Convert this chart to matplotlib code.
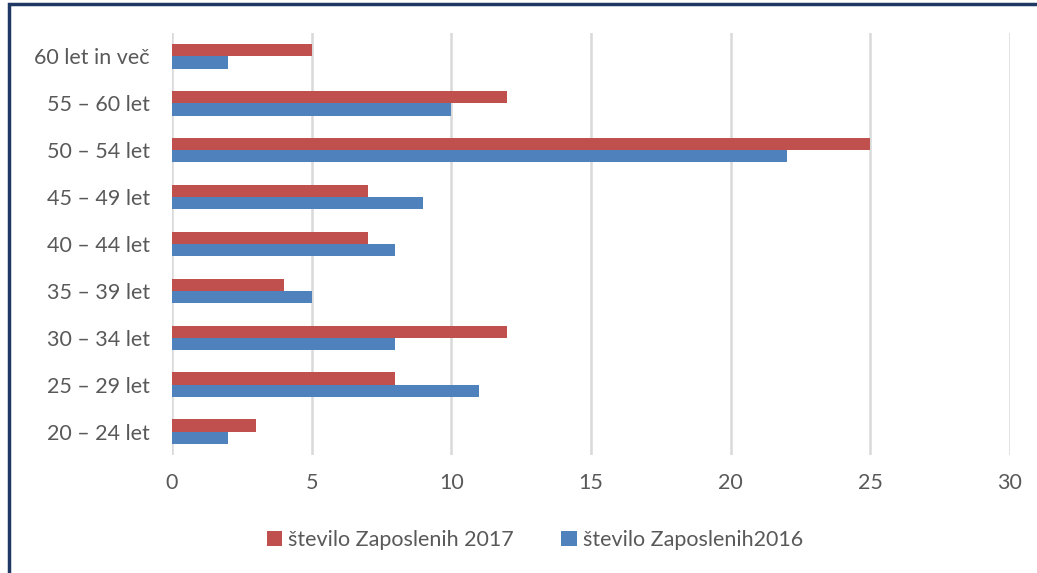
import numpy as np
import matplotlib.pyplot as plt
from matplotlib.patches import Rectangle

plt.rcParams['font.family'] = ['Lato', 'DejaVu Sans']

categories = ['20 – 24 let', '25 – 29 let', '30 – 34 let', '35 – 39 let', '40 – 44 let',
              '45 – 49 let', '50 – 54 let', '55 – 60 let', '60 let in več']
zap2017 = [3, 8, 12, 4, 7, 7, 25, 12, 5]
zap2016 = [2, 11, 8, 5, 8, 9, 22, 10, 2]
xticks = [0, 5, 10, 15, 20, 25, 30]

red = '#C0504D'
blue = '#4F81BD'
txt = '#595959'

fig = plt.figure(figsize=(10.37, 5.73), dpi=100)
ax = fig.add_axes([172/1037, 1 - 455/573, (1010 - 172)/1037, (455 - 33)/573])

y = np.arange(len(categories))
h = 0.26
ax.barh(y + h/2, zap2017, height=h, color=red, label='število Zaposlenih 2017', zorder=3)
ax.barh(y - h/2, zap2016, height=h, color=blue, label='število Zaposlenih2016', zorder=3)

ax.set_xlim(0, 30)
ax.set_ylim(-0.5, len(categories) - 0.5)
ax.set_xticks(xticks)
ax.set_yticks(y)
ax.set_yticklabels(categories)
ax.tick_params(length=0, labelsize=15.5, colors=txt)
ax.tick_params(axis='x', pad=13)
ax.tick_params(axis='y', pad=16)
ax.grid(axis='x', color='#D9D9D9', linewidth=1.8, zorder=0)
for s in ax.spines.values():
    s.set_visible(False)

ax.legend(loc='center', bbox_to_anchor=(535/1037, 1 - 540/573), bbox_transform=fig.transFigure,
          ncol=2, frameon=False, fontsize=15.5, labelcolor=txt, handlelength=0.7, handleheight=0.7,
          handletextpad=0.3, columnspacing=2.2)

# outer frame
fig.patches.append(Rectangle((9/1037, -0.1), 2, 1.1 - 4/573, transform=fig.transFigure,
                             fill=False, edgecolor='#1F3864', linewidth=2.5))

fig.savefig('out.png', dpi=100)
